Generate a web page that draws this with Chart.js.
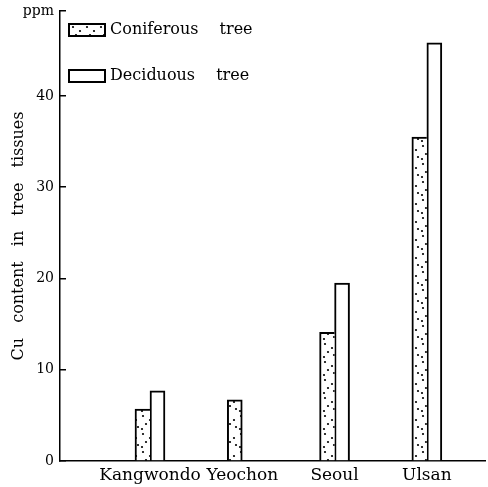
<!DOCTYPE html>
<html>
<head>
<meta charset="utf-8">
<script src="https://cdn.jsdelivr.net/npm/chart.js@4.4.1/dist/chart.umd.min.js"></script>
<style>
  html, body { margin: 0; padding: 0; background: #fff; }
  #wrap { position: relative; width: 488px; height: 487px; }
  #legend { position: absolute; left: 0; top: 0; font-family: 'DejaVu Serif', serif; font-size: 16px; color: #000; }
  .item { position: absolute; left: 68px; height: 14px; white-space: nowrap; }
  .sw { position: absolute; left: 0; top: 0; width: 34px; height: 10px; border: 2px solid #000; background: #fff; }
  .lbl { position: absolute; left: 42px; top: -4px; line-height: 20px; word-spacing: 16px; }
</style>
</head>
<body>
<div id="wrap">
  <canvas id="c" width="488" height="487"></canvas>
  <div id="legend"></div>
</div>
<script>
// ---- data ----
const categories = ['Kangwondo', 'Yeochon', 'Seoul', 'Ulsan'];
const coniferous = [5.7, 6.7, 14.1, 35.5];
const deciduous  = [7.7, null, 19.5, 45.8];
const seriesNames = ['Coniferous tree', 'Deciduous tree'];
const yTickValues = [0, 10, 20, 30, 40];
const yTopLabel = 'ppm';
const yMax = 49.3;
const yTitle = 'Cu content in tree tissues';

// ---- dotted pattern ----
function makePattern() {
  const p = document.createElement('canvas');
  p.width = 14; p.height = 18;
  const g = p.getContext('2d');
  g.fillStyle = '#fff'; g.fillRect(0, 0, 14, 18);
  g.fillStyle = '#000';
  [[3,2],[10,6],[6,10],[12,13],[2,15]].forEach(([x,y]) => {
    g.beginPath(); g.arc(x, y, 1.1, 0, Math.PI * 2); g.fill();
  });
  return p;
}
const patCanvas = makePattern();
const ctx = document.getElementById('c').getContext('2d');
const dotted = ctx.createPattern(patCanvas, 'repeat');

const serif = "'DejaVu Serif', serif";

// the taller bar of a pair keeps the shared edge
const bwConif = (c) => {
  const d = deciduous[c.dataIndex], v = coniferous[c.dataIndex];
  const shared = (d != null && d >= v) ? 0 : 2;
  return {left: 2, right: shared, top: 2, bottom: 0};
};
const bwDecid = (c) => {
  const d = deciduous[c.dataIndex], v = coniferous[c.dataIndex];
  const shared = (v != null && v > d) ? 0 : 2;
  return {left: shared, right: 2, top: 2, bottom: 0};
};

const spacingPlugin = {
  id: 'spacing',
  beforeDraw(chart) { try { chart.ctx.wordSpacing = '10px'; } catch (e) {} }
};

const chart = new Chart(ctx, {
  type: 'bar',
  data: {
    datasets: [
      { label: seriesNames[0], data: coniferous.map((v, i) => ({x: i + 1, y: v})),
        backgroundColor: dotted, borderColor: '#000', borderWidth: bwConif,
        borderSkipped: 'start', barThickness: 15 },
      { label: seriesNames[1], data: deciduous.map((v, i) => ({x: i + 1, y: v})),
        backgroundColor: '#fff', borderColor: '#000', borderWidth: bwDecid,
        borderSkipped: 'start', barThickness: 15 }
    ]
  },
  options: {
    responsive: false,
    animation: false,
    layout: { padding: { top: 0, right: 3, left: 0, bottom: 0 } },
    plugins: { legend: { display: false }, tooltip: { enabled: false } },
    scales: {
      x: {
        type: 'linear', min: 0.025, max: 4.63, offset: false,
        afterBuildTicks: (s) => { s.ticks = categories.map((c, i) => ({ value: i + 1 })); },
        afterFit: (s) => { s.height = 26; },
        ticks: {
          callback: (v) => categories[Math.round(v) - 1] || '',
          font: { family: serif, size: 17 }, color: '#000', padding: 4,
          autoSkip: false, maxRotation: 0
        },
        grid: { drawOnChartArea: false, drawTicks: false },
        border: { color: '#000', width: 1.5 }
      },
      y: {
        min: 0, max: yMax,
        afterBuildTicks: (s) => { s.ticks = [...yTickValues, yMax].map(v => ({ value: v })); },
        afterFit: (s) => { s.width = 60; s.paddingTop = 11; s.paddingBottom = 0; },
        ticks: {
          callback: (v) => (v === yMax ? yTopLabel : String(v)),
          font: { family: serif, size: 14 }, color: '#000', padding: 12
        },
        grid: { drawOnChartArea: false, tickLength: -6, color: '#000', lineWidth: 1.5 },
        border: { color: '#000', width: 1.5 },
        title: {
          display: true, text: yTitle, color: '#000',
          font: { family: serif, size: 16 }, padding: { top: 9, bottom: 0 }
        }
      }
    }
  },
  plugins: [spacingPlugin]
});

// ---- HTML legend built from datasets ----
const legend = document.getElementById('legend');
const tops = [23, 69];
chart.data.datasets.forEach((ds, i) => {
  const it = document.createElement('div');
  it.className = 'item';
  it.style.top = tops[i] + 'px';
  const sw = document.createElement('div');
  sw.className = 'sw';
  if (ds.backgroundColor === dotted) {
    sw.style.backgroundImage = 'url(' + patCanvas.toDataURL() + ')';
  } else {
    sw.style.background = ds.backgroundColor;
  }
  const lb = document.createElement('span');
  lb.className = 'lbl';
  lb.textContent = ds.label;
  it.appendChild(sw); it.appendChild(lb);
  legend.appendChild(it);
});
</script>
</body>
</html>
